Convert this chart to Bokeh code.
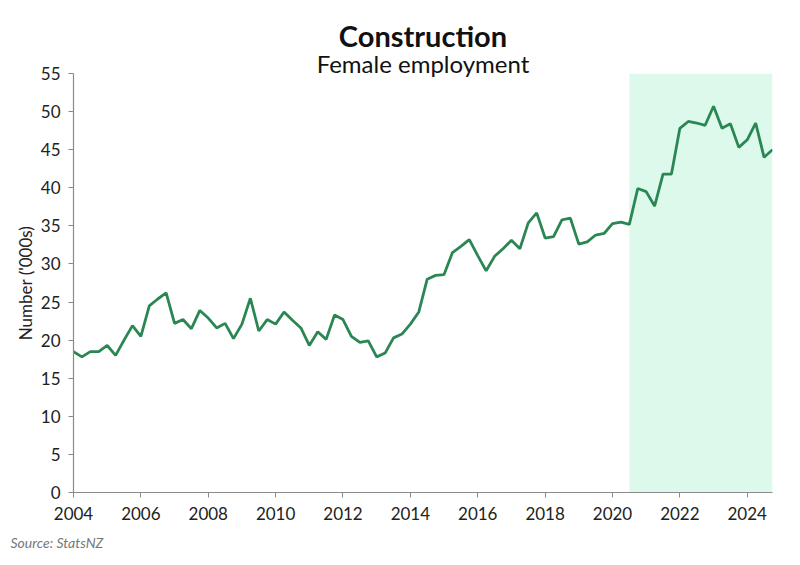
import numpy as np
from bokeh.plotting import figure
from bokeh.models import BoxAnnotation, Range1d, FixedTicker, Title
from bokeh.embed import file_html
from bokeh.resources import INLINE

start_year = 2004
values = [
    18.5, 17.8, 18.5, 18.5,
    19.3, 18.0, 20.0, 21.9,
    20.5, 24.5, 25.4, 26.2,
    22.2, 22.7, 21.5, 23.9,
    22.9, 21.6, 22.2, 20.2,
    22.1, 25.5, 21.2, 22.7,
    22.1, 23.7, 22.6, 21.6,
    19.3, 21.1, 20.1, 23.3,
    22.7, 20.5, 19.7, 19.9,
    17.8, 18.3, 20.3, 20.8,
    22.1, 23.7, 28.0, 28.5,
    28.6, 31.5, 32.3, 33.2,
    31.1, 29.1, 31.0, 32.0,
    33.1, 32.0, 35.4, 36.7,
    33.4, 33.6, 35.8, 36.0,
    32.6, 32.9, 33.8, 34.0,
    35.3, 35.5, 35.2, 39.9,
    39.5, 37.6, 41.8, 41.8,
    47.8, 48.7, 48.5, 48.2,
    50.7, 47.8, 48.4, 45.3,
    46.3, 48.5, 44.0, 45.0,
]
quarters = start_year + np.arange(len(values)) / 4.0
shade_start = 2020.5
shade_end = 2024.75
x_ticks = list(range(2004, 2025, 2))
y_ticks = list(range(0, 56, 5))

FONT = "Lato"
GREY_AXIS = "#8a8a8a"
TEXT = "#222222"

p = figure(width=784, height=563, output_backend="svg", toolbar_location=None,
           title=None,
           x_range=Range1d(2004, 2024.75), y_range=Range1d(0, 55),
           min_border_left=73, min_border_right=12, min_border_top=73,
           min_border_bottom=71)
p.outline_line_color = None
p.grid.grid_line_color = None
p.background_fill_color = "white"
p.border_fill_color = "white"

box = BoxAnnotation(left=shade_start, right=shade_end, fill_color="#dcf9ec",
                    fill_alpha=1.0, line_color=None, level="underlay")
p.add_layout(box)

p.line(quarters, values, line_color="#2a8754", line_width=2.8)

for ax in (p.xaxis[0], p.yaxis[0]):
    ax.axis_line_color = GREY_AXIS
    ax.axis_line_width = 1.2
    ax.major_tick_line_color = GREY_AXIS
    ax.major_tick_in = 0
    ax.major_tick_out = 5
    ax.minor_tick_line_color = None
    ax.major_label_text_font = FONT
    ax.major_label_text_font_size = "17px"
    ax.major_label_text_color = TEXT

p.xaxis.ticker = FixedTicker(ticks=x_ticks)
p.yaxis.ticker = FixedTicker(ticks=y_ticks)
p.xaxis.major_label_standoff = 9
p.yaxis.major_label_standoff = 8
p.yaxis.axis_label = "Number ('000s)"
p.yaxis.axis_label_text_font = FONT
p.yaxis.axis_label_text_font_size = "17px"
p.yaxis.axis_label_text_font_style = "normal"
p.yaxis.axis_label_text_color = TEXT
p.yaxis.axis_label_standoff = 2

p.add_layout(Title(text="Female employment", align="center", text_font=FONT,
                   text_font_size="24px", text_font_style="normal",
                   text_color="#111111", standoff=-8), "above")
p.add_layout(Title(text="Construction", align="center", text_font=FONT,
                   text_font_size="29px", text_font_style="bold",
                   text_color="#111111", standoff=-4), "above")
p.add_layout(Title(text="Source: StatsNZ", align="left", offset=-63,
                   text_font=FONT, text_font_size="14px",
                   text_font_style="italic", text_color="#777777",
                   standoff=18), "below")

open("out.html", "w").write(file_html(p, INLINE))
